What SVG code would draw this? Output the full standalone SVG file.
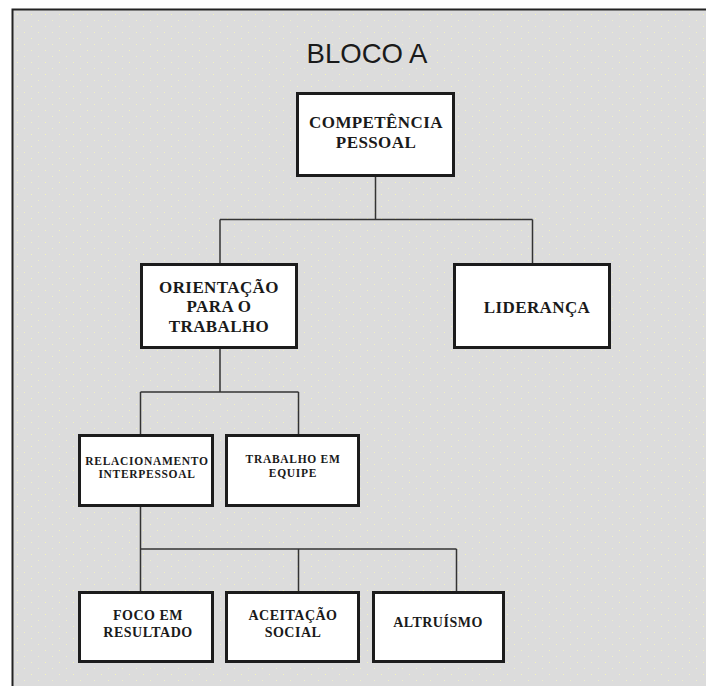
<svg xmlns="http://www.w3.org/2000/svg" width="706" height="686" viewBox="0 0 706 686">
  <style>
    .box { fill: #ffffff; stroke: #1c1c1c; stroke-width: 3; }
    .wire { fill: none; stroke: #333333; stroke-width: 1.5; }
    .t1 { font-family: "Liberation Serif", "Times New Roman", serif; font-weight: bold; font-size: 17px; fill: #1a1a1a; text-anchor: middle; letter-spacing: 0.4px; }
    .t2 { font-family: "Liberation Serif", "Times New Roman", serif; font-weight: bold; font-size: 11.5px; fill: #1a1a1a; text-anchor: middle; letter-spacing: 0.7px; }
    .t3 { font-family: "Liberation Serif", "Times New Roman", serif; font-weight: bold; font-size: 14px; fill: #1a1a1a; text-anchor: middle; letter-spacing: 0.5px; }
    .title { font-family: "Liberation Sans", Arial, sans-serif; font-size: 28px; fill: #1a1a1a; text-anchor: middle; }
  </style>
  <defs>
    <pattern id="speckle" width="14" height="12" patternUnits="userSpaceOnUse">
      <rect x="3" y="2" width="1" height="1" fill="#f3f3c0"/>
      <rect x="10" y="8" width="1" height="1" fill="#f0f0c8"/>
    </pattern>
  </defs>

  <!-- page and frame -->
  <rect x="0" y="0" width="706" height="686" fill="#ffffff"/>
  <rect x="12" y="9" width="694" height="677" fill="#dcdcdc"/>
  <rect x="12" y="9" width="694" height="677" fill="url(#speckle)"/>
  <path d="M12.5 686 V9.5 H706" fill="none" stroke="#222222" stroke-width="2"/>

  <text class="title" x="367" y="63" textLength="121" lengthAdjust="spacingAndGlyphs">BLOCO A</text>

  <!-- connectors -->
  <g id="connectors">
    <path class="wire" d="M375.5 177 V219.5 M220 219.5 H532.5 M220 219.5 V263 M532.5 219.5 V263"/>
    <path class="wire" d="M220 349 V392 M140.5 392 H298.5 M140.5 392 V434 M298.5 392 V434"/>
    <path class="wire" d="M140.5 507 V549 M140.5 549 H456.5 M140.5 549 V591 M298.5 549 V591 M456.5 549 V591"/>
  </g>

  <g id="competencia-pessoal">
    <rect class="box" x="297.5" y="93.5" width="156" height="82"/>
    <text class="t1" x="376" y="128">COMPETÊNCIA</text>
    <text class="t1" x="376" y="148">PESSOAL</text>
  </g>

  <g id="orientacao-trabalho">
    <rect class="box" x="141.5" y="264.5" width="155" height="83"/>
    <text class="t1" x="219" y="293">ORIENTAÇÃO</text>
    <text class="t1" x="219" y="312">PARA O</text>
    <text class="t1" x="219" y="332">TRABALHO</text>
  </g>

  <g id="lideranca">
    <rect class="box" x="454.5" y="264.5" width="155" height="83"/>
    <text class="t1" x="537" y="313">LIDERANÇA</text>
  </g>

  <g id="relacionamento-interpessoal">
    <rect class="box" x="79.5" y="435.5" width="133" height="70"/>
    <text class="t2" x="147" y="465">RELACIONAMENTO</text>
    <text class="t2" x="147" y="478">INTERPESSOAL</text>
  </g>

  <g id="trabalho-equipe">
    <rect class="box" x="226.5" y="435.5" width="132" height="70"/>
    <text class="t2" x="293" y="463">TRABALHO EM</text>
    <text class="t2" x="293" y="477">EQUIPE</text>
  </g>

  <g id="foco-resultado">
    <rect class="box" x="79.5" y="592.5" width="133" height="69"/>
    <text class="t3" x="148" y="620">FOCO EM</text>
    <text class="t3" x="148" y="637">RESULTADO</text>
  </g>

  <g id="aceitacao-social">
    <rect class="box" x="226.5" y="592.5" width="132" height="69"/>
    <text class="t3" x="293" y="620">ACEITAÇÃO</text>
    <text class="t3" x="293" y="637">SOCIAL</text>
  </g>

  <g id="altruismo">
    <rect class="box" x="373.5" y="592.5" width="130" height="69"/>
    <text class="t3" x="438" y="627">ALTRUÍSMO</text>
  </g>
</svg>
